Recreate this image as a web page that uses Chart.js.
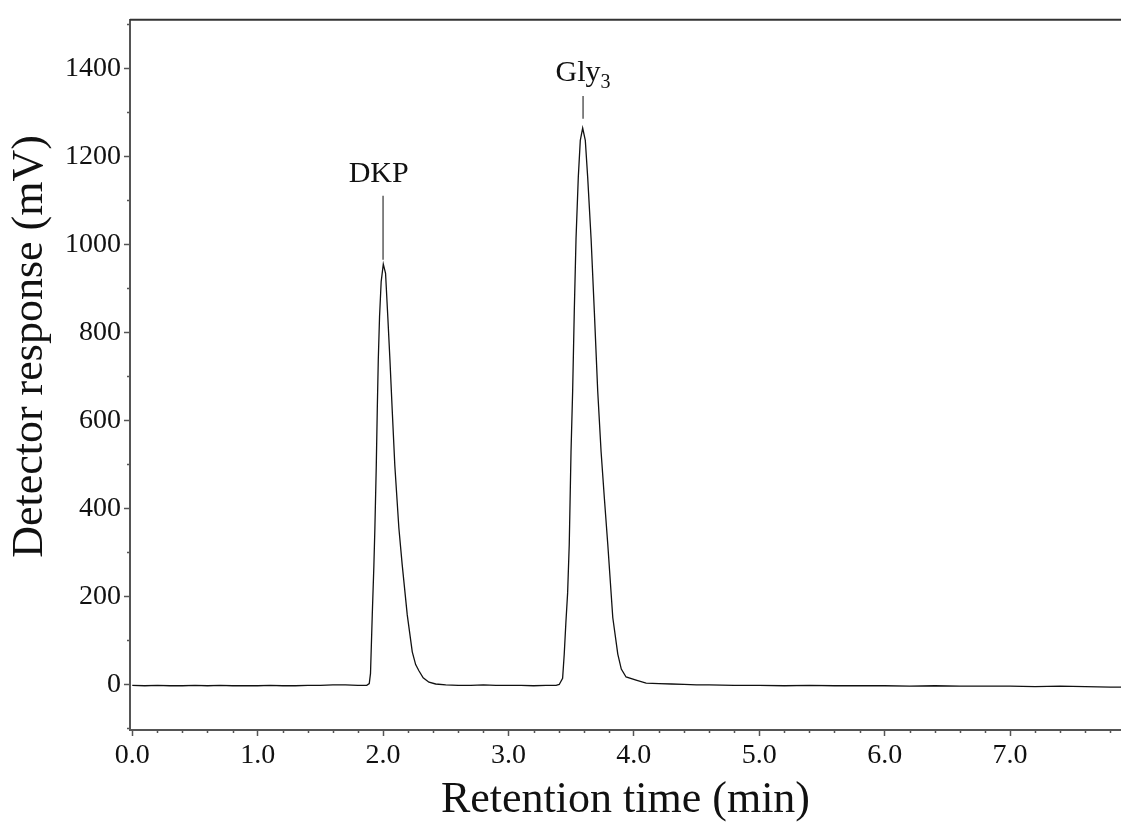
<!DOCTYPE html>
<html>
<head>
<meta charset="utf-8">
<script src="https://cdn.jsdelivr.net/npm/chart.js@4.4.1/dist/chart.umd.min.js"></script>
<style>
  html, body { margin: 0; padding: 0; background: #fff; }
  canvas { display: block; }
</style>
</head>
<body>
<canvas id="chromatogram" width="1121" height="827"></canvas>
<script>
// Chromatogram: retention time (min) vs detector response (mV)
const retentionTime = [
  0.00, 0.10, 0.20, 0.30, 0.40, 0.50, 0.60, 0.70, 0.80, 0.90,
  1.00, 1.10, 1.20, 1.30, 1.40, 1.50, 1.60, 1.70, 1.80, 1.87,
  1.89, 1.900, 1.914, 1.927, 1.935, 1.946, 1.954, 1.962, 1.972, 1.985,
  2.002, 2.020, 2.038, 2.055, 2.073, 2.094, 2.126, 2.153, 2.193, 2.233,
  2.26, 2.286, 2.32, 2.366, 2.42, 2.50, 2.60, 2.70, 2.80, 2.90,
  3.00, 3.10, 3.20, 3.30, 3.38, 3.405, 3.432, 3.445, 3.458, 3.472,
  3.485, 3.499, 3.512, 3.525, 3.539, 3.557, 3.573, 3.592, 3.613, 3.632,
  3.659, 3.685, 3.712, 3.739, 3.765, 3.792, 3.832, 3.872, 3.90, 3.938,
  4.018, 4.098, 4.20, 4.30, 4.40, 4.50, 4.60, 4.80, 5.00, 5.20,
  5.40, 5.60, 5.80, 6.00, 6.20, 6.40, 6.60, 6.80, 7.00, 7.20,
  7.40, 7.60, 7.80, 7.885
];
const detectorResponse = [
  -2, -3, -2, -3, -3, -2, -3, -2, -3, -3,
  -3, -2, -3, -3, -2, -2, -1, -1, -2, -2,
  2, 25, 158, 271, 356, 497, 624, 737, 835, 915,
  955, 934, 835, 737, 624, 497, 356, 271, 158, 74,
  45, 31, 15, 5, 1, -1, -2, -2, -1, -2,
  -2, -2, -3, -2, -2, 0, 14, 69, 140, 208,
  319, 528, 666, 847, 1013, 1152, 1236, 1264, 1236, 1152,
  1013, 847, 666, 528, 423, 319, 152, 69, 35, 17,
  10, 3, 2, 1, 0, -1, -1, -2, -2, -3,
  -2, -3, -3, -3, -4, -3, -4, -4, -4, -5,
  -4, -5, -6, -6
];

const timeTicks = [0, 1, 2, 3, 4, 5, 6, 7];
const responseTicks = [0, 200, 400, 600, 800, 1000, 1200, 1400];

// Peak annotations: label, marker time, text centre time, text baseline and marker ends (mV)
const peakLabels = ['DKP', 'Gly'];
const peakSubscripts = ['', '3'];
const markerTimes = [2.00, 3.595];
const labelTimes = [1.965, 3.595];
const labelLevels = [1142, 1371];
const markerTop = [1110, 1337];
const markerBottom = [965, 1285];

const yTitle = 'Detector response (mV)';
const xTitle = 'Retention time (min)';

const serif = "'Liberation Serif', 'Times New Roman', serif";
Chart.defaults.font.family = serif;
Chart.defaults.color = '#111';

const decorations = {
  id: 'decorations',
  afterDraw(chart) {
    const { ctx, chartArea, scales: { x, y } } = chart;
    ctx.save();

    // top frame line
    ctx.strokeStyle = '#333';
    ctx.lineWidth = 2;
    ctx.beginPath();
    ctx.moveTo(chartArea.left, chartArea.top);
    ctx.lineTo(chartArea.right, chartArea.top);
    ctx.stroke();

    // minor ticks
    ctx.strokeStyle = '#555';
    ctx.lineWidth = 1.5;
    ctx.beginPath();
    for (let i = 1; i <= 39; i++) {
      if (i % 5 === 0) continue;
      const px = Math.round(x.getPixelForValue(i * 0.2)) + 0.5;
      if (px > chartArea.right) break;
      ctx.moveTo(px, chartArea.bottom);
      ctx.lineTo(px, chartArea.bottom + 3);
    }
    for (let v = -100; v <= 1500; v += 200) {
      const py = Math.round(y.getPixelForValue(v)) + 0.5;
      ctx.moveTo(chartArea.left - 3, py);
      ctx.lineTo(chartArea.left, py);
    }
    ctx.stroke();

    // y axis title, sits a little above the middle of the axis
    ctx.fillStyle = '#111';
    ctx.font = '44px ' + serif;
    ctx.textAlign = 'center';
    ctx.textBaseline = 'middle';
    ctx.translate(30, chartArea.top + (chartArea.bottom - chartArea.top) * 0.46);
    ctx.rotate(-Math.PI / 2);
    ctx.fillText(yTitle, 0, 0);
    ctx.setTransform(1, 0, 0, 1, 0, 0);

    // peak labels and marker lines
    ctx.strokeStyle = '#333';
    ctx.lineWidth = 1.2;
    ctx.textBaseline = 'alphabetic';
    peakLabels.forEach((label, i) => {
      const px = x.getPixelForValue(markerTimes[i]);
      ctx.beginPath();
      ctx.moveTo(px, y.getPixelForValue(markerTop[i]));
      ctx.lineTo(px, y.getPixelForValue(markerBottom[i]));
      ctx.stroke();

      ctx.font = '30px ' + serif;
      const w = ctx.measureText(label).width;
      ctx.font = '20px ' + serif;
      const ws = peakSubscripts[i] ? ctx.measureText(peakSubscripts[i]).width : 0;
      const start = x.getPixelForValue(labelTimes[i]) - (w + ws) / 2;
      const base = y.getPixelForValue(labelLevels[i]);
      ctx.textAlign = 'left';
      ctx.font = '30px ' + serif;
      ctx.fillText(label, start, base);
      if (ws) {
        ctx.font = '20px ' + serif;
        ctx.fillText(peakSubscripts[i], start + w, base + 7);
      }
    });
    ctx.restore();
  }
};

new Chart(document.getElementById('chromatogram'), {
  type: 'line',
  data: {
    datasets: [{
      data: retentionTime.map((t, i) => ({ x: t, y: detectorResponse[i] })),
      borderColor: '#111',
      borderWidth: 1.3,
      pointRadius: 0,
      tension: 0,
      fill: false
    }]
  },
  options: {
    responsive: false,
    animation: false,
    layout: { padding: { top: 13, right: 0, left: 0, bottom: 0 } },
    plugins: { legend: { display: false }, tooltip: { enabled: false } },
    scales: {
      x: {
        type: 'linear',
        min: -0.018,
        max: 7.885,
        afterBuildTicks: scale => { scale.ticks = timeTicks.map(v => ({ value: v })); },
        afterFit: scale => { scale.height = 97; },
        border: { display: true, color: '#555', width: 2 },
        grid: { drawOnChartArea: false, drawTicks: true, tickLength: 6, tickColor: '#555', tickWidth: 1.5 },
        ticks: {
          font: { size: 28 },
          padding: 3,
          maxRotation: 0,
          callback: v => v.toFixed(1)
        },
        title: {
          display: true,
          text: xTitle,
          font: { size: 44 },
          padding: { top: 0, bottom: 0 }
        }
      },
      y: {
        min: -103.5,
        max: 1510,
        afterBuildTicks: scale => { scale.ticks = responseTicks.map(v => ({ value: v })); },
        afterFit: scale => { scale.width = 130; },
        border: { display: true, color: '#555', width: 2 },
        grid: { drawOnChartArea: false, drawTicks: true, tickLength: 6, tickColor: '#555', tickWidth: 1.5 },
        ticks: {
          font: { size: 28 },
          padding: 3,
          callback: v => String(v)
        },
        title: { display: false }
      }
    }
  },
  plugins: [decorations]
});
</script>
</body>
</html>
